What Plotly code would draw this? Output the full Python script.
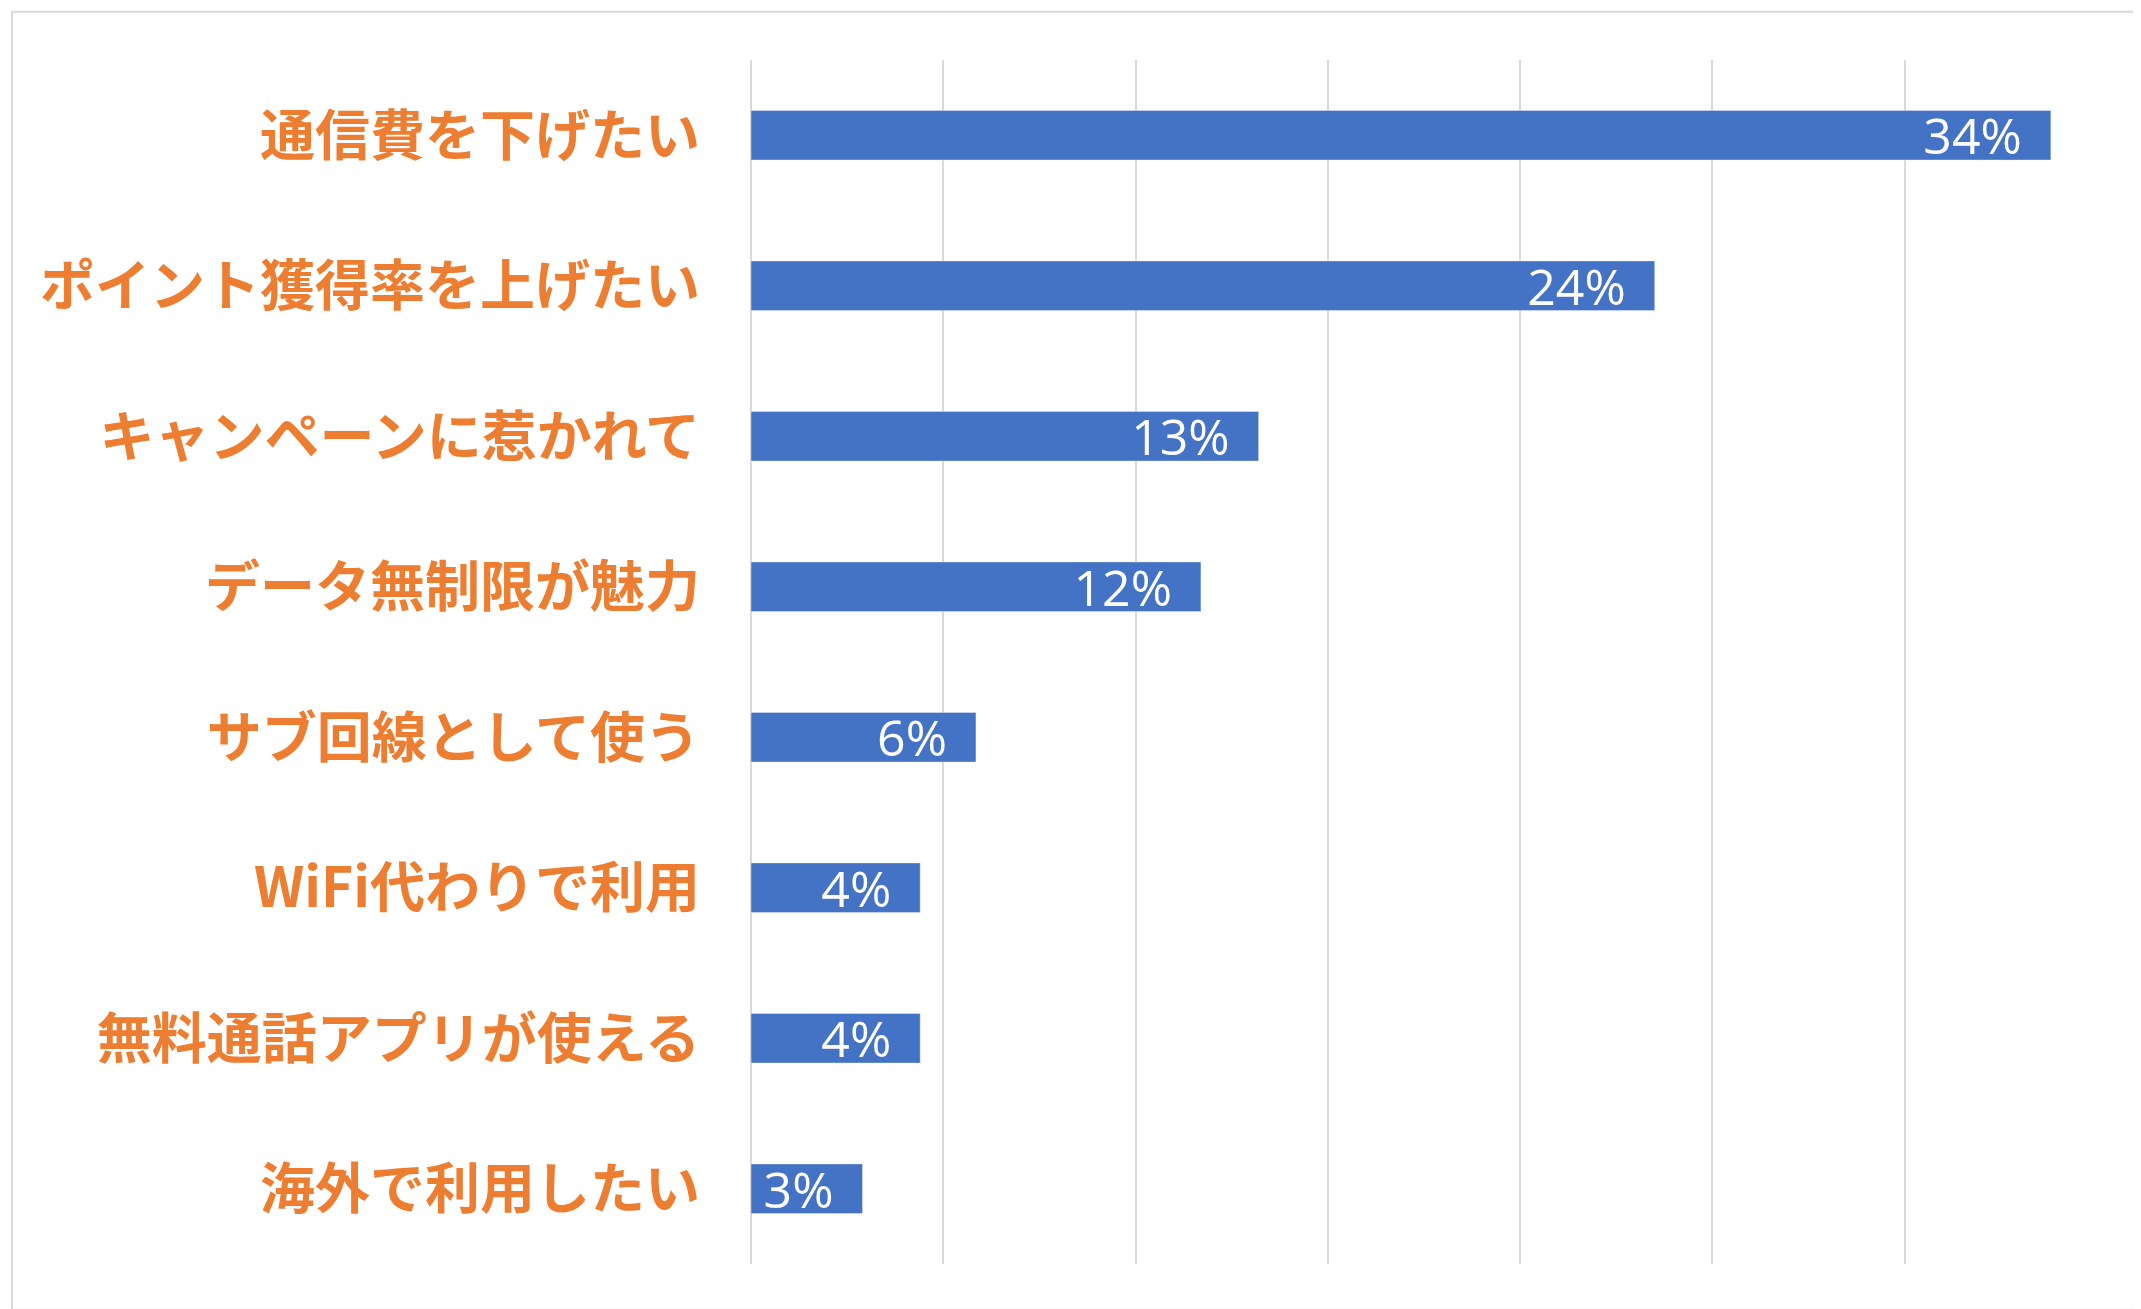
import plotly.graph_objects as go

categories = ['通信費を下げたい', 'ポイント獲得率を上げたい', 'キャンペーンに惹かれて', 'データ無制限が魅力',
              'サブ回線として使う', 'WiFi代わりで利用', '無料通話アプリが使える', '海外で利用したい']
values = [33.8, 23.5, 13.2, 11.7, 5.85, 4.4, 4.4, 2.9]
labels = ['34%', '24%', '13%', '12%', '6%', '4%', '4%', '3%']

bar_color = '#4472C4'
label_color = '#ED7D31'
grid_color = '#D9D9D9'

fig = go.Figure(go.Bar(
    x=values, y=categories, orientation='h',
    marker=dict(color=bar_color),
    text=labels, texttemplate='%{text}  ', textposition='inside', insidetextanchor='end',
    constraintext='none',
    textfont=dict(color='white', size=50, family='Open Sans'),
))

fig.update_layout(
    width=2141, height=1309,
    margin=dict(l=743, r=52, t=52, b=53),
    paper_bgcolor='white', plot_bgcolor='white',
    bargap=0.67, showlegend=False,
    xaxis=dict(range=[0, 35], dtick=5, showticklabels=False, showgrid=True,
               gridcolor=grid_color, gridwidth=2, zeroline=True,
               zerolinecolor=grid_color, zerolinewidth=2, fixedrange=True),
    yaxis=dict(autorange='reversed', ticklabelstandoff=50,
               tickfont=dict(color=label_color, size=55, family='Noto Sans CJK JP', weight='bold'),
               showgrid=False),
    shapes=[dict(type='rect', xref='paper', yref='paper',
                 x0=-0.549, x1=1.034, y0=-0.038, y1=1.040,
                 line=dict(color='#D9D9D9', width=2))],
)

fig.write_html('out.html')
